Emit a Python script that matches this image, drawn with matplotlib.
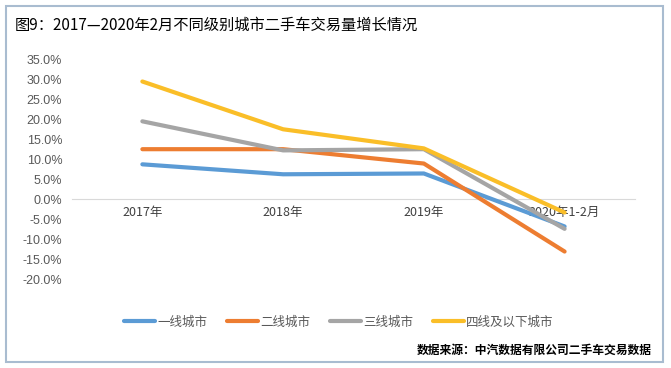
import matplotlib
matplotlib.use("Agg")
import matplotlib.pyplot as plt
from matplotlib.patches import Rectangle

plt.rcParams['font.family'] = ['Noto Sans CJK SC', 'DejaVu Sans']

categories = ["2017年", "2018年", "2019年", "2020年1-2月"]
tier1 = [8.8, 6.3, 6.5, -6.8]
tier2 = [12.6, 12.6, 9.0, -13.1]
tier3 = [19.6, 12.3, 12.6, -7.4]
tier4 = [29.6, 17.6, 12.8, -3.3]
series_names = ["一线城市", "二线城市", "三线城市", "四线及以下城市"]
colors = ["#5B9BD5", "#ED7D31", "#A5A5A5", "#FABE28"]
yticks = [35, 30, 25, 20, 15, 10, 5, 0, -5, -10, -15, -20]

fig = plt.figure(figsize=(6.71, 3.68), dpi=100)
ax = fig.add_axes([0.1073, 0.2418, 0.839, 0.5952])

x = range(len(categories))
for vals, name, c in zip([tier1, tier2, tier3, tier4], series_names, colors):
    ax.plot(x, [v / 100 for v in vals], color=c, lw=3, label=name,
            solid_capstyle="round")

ax.set_xlim(-0.5, len(categories) - 0.5)
ax.set_ylim(-0.20, 0.35)
ax.set_yticks([t / 100 for t in yticks])
ax.set_yticklabels([f"{t:.1f}%" for t in yticks], fontsize=9, color="#595959",
                   family=['Liberation Sans', 'DejaVu Sans'])
ax.tick_params(axis="y", length=0, pad=7)

for s in ["top", "right", "left"]:
    ax.spines[s].set_visible(False)
ax.spines["bottom"].set_position(("data", 0))
ax.spines["bottom"].set_color("#D9D9D9")
ax.spines["bottom"].set_zorder(0)
ax.set_xticks(list(x))
ax.set_xticklabels(categories, fontsize=9, color="#404040")
ax.tick_params(axis="x", length=0, pad=5)
for lbl in ax.get_xticklabels():
    lbl.set_zorder(5)

leg = fig.legend(loc="center", bbox_to_anchor=(0.505, 1 - 322 / 368), ncol=4,
                 frameon=False, fontsize=9, handlelength=2.5, handletextpad=0.15,
                 columnspacing=1.6, labelcolor="#595959")

fig.text(15 / 671, 1 - 25 / 368, "图9：2017—2020年2月不同级别城市二手车交易量增长情况",
         fontsize=11, color="black", va="center", ha="left")
fig.text(652 / 671, 1 - 350 / 368, "数据来源：中汽数据有限公司二手车交易数据",
         fontsize=8.5, fontweight="bold", color="black", va="center", ha="right")

fig.patches.append(Rectangle((6 / 671, 1 - 362 / 368), 657 / 671, 356 / 368,
                             transform=fig.transFigure, fill=False,
                             edgecolor="#A9BCD0", lw=1.5))

fig.savefig("out.png", dpi=100)
